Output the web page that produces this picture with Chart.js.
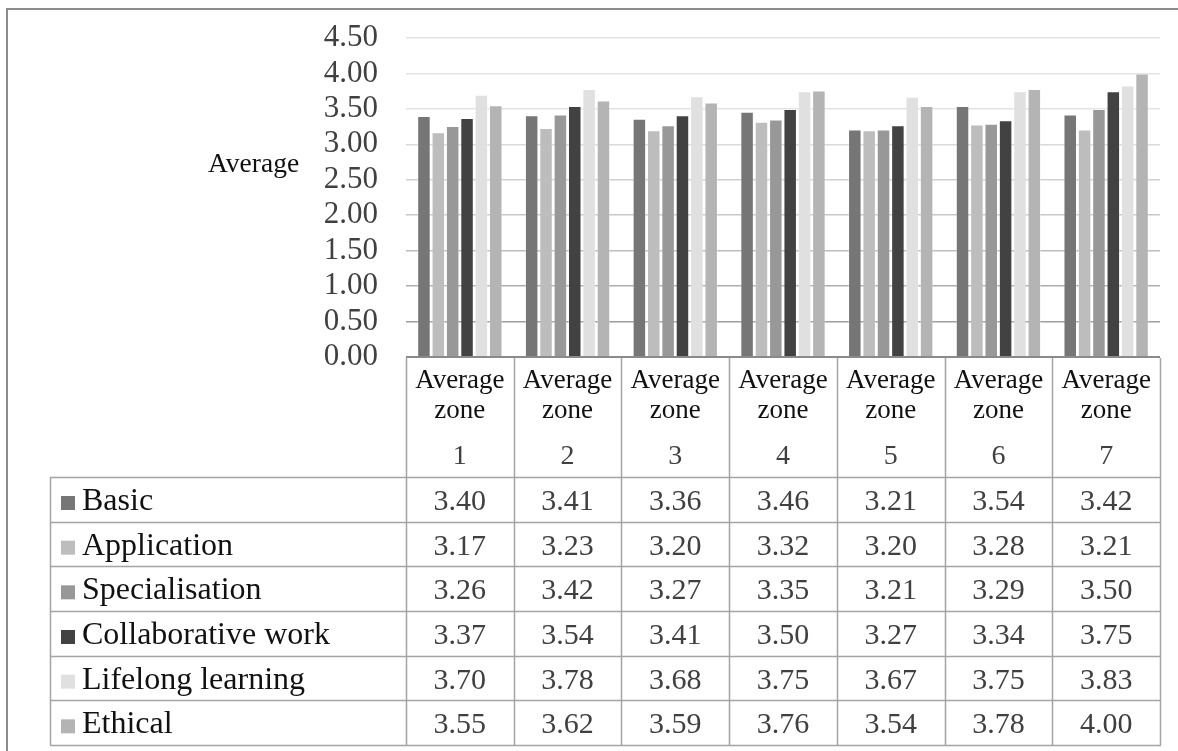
<!DOCTYPE html>
<html>
<head>
<meta charset="utf-8">
<script src="https://cdn.jsdelivr.net/npm/chart.js@4.4.0/dist/chart.umd.min.js"></script>
<style>
  html, body { margin: 0; padding: 0; background: #fff; }
  #wrap { position: relative; width: 1178px; height: 751px; overflow: hidden; }
  #frame {
    position: absolute; left: 6px; top: 8px; width: 1300px; height: 900px;
    border-top: 2px solid #8c8c8c; border-left: 2px solid #8c8c8c;
    pointer-events: none;
  }
</style>
</head>
<body>
<div id="wrap">
  <canvas id="chart" width="1178" height="751"></canvas>
  <div id="frame"></div>
</div>
<script>
// data
const zones          = ['1', '2', '3', '4', '5', '6', '7'];
const seriesNames    = ['Basic', 'Application', 'Specialisation', 'Collaborative work', 'Lifelong learning', 'Ethical'];
const basic          = [3.40, 3.41, 3.36, 3.46, 3.21, 3.54, 3.42];
const application    = [3.17, 3.23, 3.20, 3.32, 3.20, 3.28, 3.21];
const specialisation = [3.26, 3.42, 3.27, 3.35, 3.21, 3.29, 3.50];
const collaborative  = [3.37, 3.54, 3.41, 3.50, 3.27, 3.34, 3.75];
const lifelong       = [3.70, 3.78, 3.68, 3.75, 3.67, 3.75, 3.83];
const ethical        = [3.55, 3.62, 3.59, 3.76, 3.54, 3.78, 4.00];
const yTitle         = 'Average';

const seriesValues = [basic, application, specialisation, collaborative, lifelong, ethical];
const greys = ['#767676', '#bdbdbd', '#989898', '#424242', '#e0e0e0', '#b4b4b4'];
const serif = "'Liberation Serif', 'Times New Roman', serif";

// grid gets darker toward the bottom, like the scan
function gridColor(ctx) {
  const v = ctx.tick ? ctx.tick.value : 0;
  if (v === 0) return '#8a8a8a';
  if (v <= 0.5) return 'rgba(0,0,0,0.38)';
  if (v <= 1.0) return 'rgba(0,0,0,0.32)';
  if (v <= 1.5) return 'rgba(0,0,0,0.26)';
  if (v <= 2.0) return 'rgba(0,0,0,0.22)';
  if (v <= 2.5) return 'rgba(0,0,0,0.18)';
  if (v <= 3.0) return 'rgba(0,0,0,0.15)';
  return 'rgba(0,0,0,0.11)';
}

// data table under the plot, columns taken from the x scale
const dataTable = {
  id: 'dataTable',
  afterDraw(chart) {
    const ctx = chart.ctx;
    const xs = chart.scales.x;
    const area = chart.chartArea;
    const colW = (area.right - area.left) / zones.length;
    const headTop = area.bottom;
    const headBot = 477;
    const tableBot = 745;
    const rowH = (tableBot - headBot) / seriesNames.length;
    const legLeft = 50;

    ctx.save();
    ctx.strokeStyle = '#a4a4a4';
    ctx.lineWidth = 1.5;

    // vertical lines
    for (let i = 0; i <= zones.length; i++) {
      const x = Math.round(area.left + i * colW) + 0.5;
      ctx.beginPath();
      ctx.moveTo(x, headTop + 1);
      ctx.lineTo(x, tableBot);
      ctx.stroke();
    }
    ctx.beginPath();
    ctx.moveTo(legLeft + 0.5, headBot);
    ctx.lineTo(legLeft + 0.5, tableBot);
    ctx.stroke();

    // horizontal lines
    for (let r = 0; r <= seriesNames.length; r++) {
      const y = Math.round(headBot + r * rowH) + 0.5;
      ctx.beginPath();
      ctx.moveTo(legLeft, y);
      ctx.lineTo(area.right + 1, y);
      ctx.stroke();
    }

    // header
    ctx.textAlign = 'center';
    ctx.textBaseline = 'alphabetic';
    zones.forEach((z, i) => {
      const cx = xs.getPixelForValue(i);
      ctx.fillStyle = '#111';
      ctx.font = '27px ' + serif;
      ctx.fillText('Average', cx, 388);
      ctx.fillText('zone', cx, 418);
      ctx.fillStyle = '#404040';
      ctx.font = '28px ' + serif;
      ctx.fillText(z, cx, 464);
    });

    // rows
    seriesNames.forEach((name, r) => {
      const top = headBot + r * rowH;
      const base = top + 33;
      ctx.fillStyle = greys[r];
      ctx.fillRect(61, base - 14, 14, 14);
      ctx.fillStyle = '#111';
      ctx.font = '32px ' + serif;
      ctx.textAlign = 'left';
      ctx.fillText(name, 82, base);
      ctx.fillStyle = '#404040';
      ctx.font = '30px ' + serif;
      ctx.textAlign = 'center';
      seriesValues[r].forEach((v, i) => {
        ctx.fillText(v.toFixed(2), xs.getPixelForValue(i), base);
      });
    });

    // axis title
    ctx.fillStyle = '#111';
    ctx.font = '27.5px ' + serif;
    ctx.textAlign = 'left';
    ctx.fillText(yTitle, 208, 172);
    ctx.restore();
  }
};

const ctx = document.getElementById('chart').getContext('2d');
new Chart(ctx, {
  type: 'bar',
  data: {
    labels: zones.map(z => 'Average zone ' + z),
    datasets: seriesNames.map((name, i) => ({
      label: name,
      data: seriesValues[i],
      backgroundColor: greys[i],
      borderColor: 'rgba(255,255,255,0.3)',
      borderWidth: 1,
      categoryPercentage: 0.8,
      barPercentage: 0.94
    }))
  },
  options: {
    responsive: false,
    animation: false,
    layout: { padding: { top: 38, right: 18, bottom: 394, left: 0 } },
    plugins: {
      legend: { display: false },
      tooltip: { enabled: false }
    },
    scales: {
      x: { display: false },
      y: {
        z: 1,
        min: 0,
        max: 4.5,
        afterFit(scale) { scale.width = 406; },
        border: { display: false },
        grid: {
          drawTicks: false,
          color: gridColor,
          lineWidth: c => (c.tick && c.tick.value === 0 ? 2 : 1.5)
        },
        ticks: {
          stepSize: 0.5,
          autoSkip: false,
          padding: 28,
          color: '#404040',
          font: { family: serif, size: 31, lineHeight: 0.6 },
          callback: v => v.toFixed(2)
        }
      }
    }
  },
  plugins: [dataTable]
});
</script>
</body>
</html>
